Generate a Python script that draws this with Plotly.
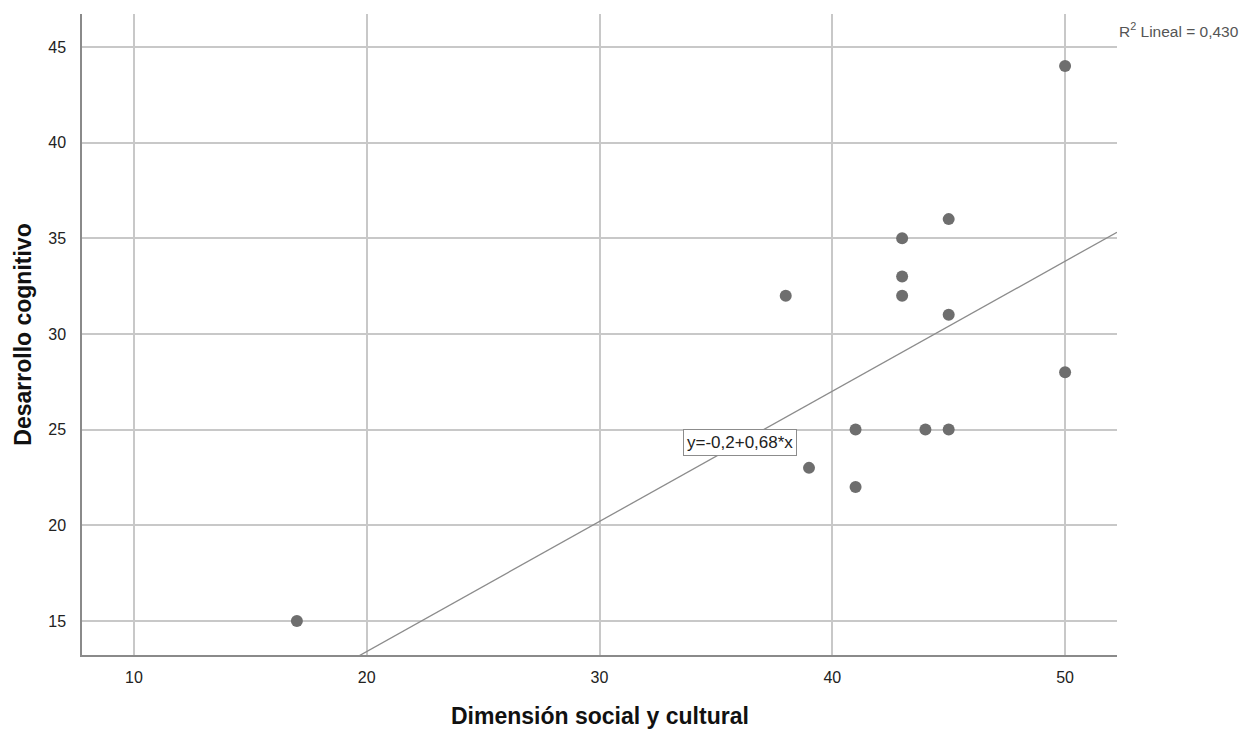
import plotly.graph_objects as go

# Data
social_cultural = [17, 38, 39, 41, 41, 43, 43, 43, 44, 45, 45, 45, 50, 50]
cognitivo = [15, 32, 23, 25, 22, 35, 33, 32, 25, 36, 31, 25, 44, 28]

intercept = -0.2
slope = 0.68
r2_text = "R<sup>2</sup> Lineal = 0,430"
eq_text = "y=-0,2+0,68*x"
x_title = "Dimensión social y cultural"
y_title = "Desarrollo cognitivo"

x_range = [7.77, 52.23]
y_range = [13.22, 46.72]
x_ticks = [10, 20, 30, 40, 50]
y_ticks = [15, 20, 25, 30, 35, 40, 45]

fit_x = x_range
fit_y = [intercept + slope * v for v in fit_x]

FONT = "Liberation Sans, Arial"

fig = go.Figure()
fig.add_trace(go.Scatter(
    x=fit_x, y=fit_y, mode="lines",
    line=dict(color="#8c8c8c", width=1.3), showlegend=False, hoverinfo="skip"))
fig.add_trace(go.Scatter(
    x=social_cultural, y=cognitivo, mode="markers",
    marker=dict(color="#6e6e6e", size=12, line=dict(width=0)),
    showlegend=False))

fig.add_annotation(x=36.05, y=24.3, xref="x", yref="y", text=eq_text,
                   showarrow=False, bgcolor="white", bordercolor="#8c8c8c",
                   borderwidth=1, borderpad=3,
                   font=dict(family=FONT, size=17, color="#222"))
fig.add_annotation(x=1.0, y=1.0, xref="paper", yref="paper", xanchor="left",
                   yanchor="top", xshift=0, yshift=-4, text=r2_text, showarrow=False,
                   font=dict(family=FONT, size=15.5, color="#555"))

axis_font = dict(family=FONT, size=16, color="#222")
title_font = dict(family=FONT, size=23, color="#111")

# x-axis title placed as annotation below the plot area
fig.add_annotation(x=0.5, y=-0.095, xref="paper", yref="paper",
                   xanchor="center", yanchor="middle", showarrow=False,
                   text="<b>" + x_title + "</b>", font=title_font)

fig.update_layout(
    width=1245, height=729,
    margin=dict(l=82, r=128, t=14, b=74, autoexpand=False),
    paper_bgcolor="white", plot_bgcolor="white",
    font=dict(family=FONT),
    xaxis=dict(range=x_range, tickvals=x_ticks, showgrid=True,
               gridcolor="#c8c8c8", gridwidth=1.5, zeroline=False,
               showline=True, linecolor="#8a8a8a", linewidth=1.5,
               ticks="", tickfont=axis_font, ticklabelstandoff=7,
               automargin=False),
    yaxis=dict(range=y_range, tickvals=y_ticks, showgrid=True,
               gridcolor="#c8c8c8", gridwidth=1.5, zeroline=False,
               showline=True, linecolor="#8a8a8a", linewidth=1.5,
               ticks="", tickfont=axis_font, ticklabelstandoff=11,
               title=dict(text="<b>" + y_title + "</b>",
                          font=title_font, standoff=10)),
)

fig.write_html("out.html")
